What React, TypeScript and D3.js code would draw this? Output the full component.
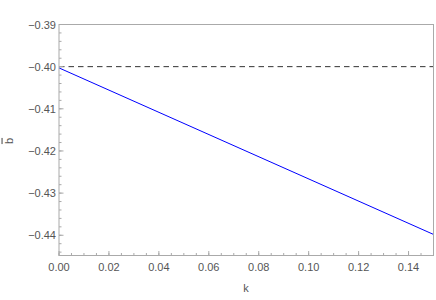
import React from "react";
import * as d3 from "d3";

const kValues = [0, 0.15];
const bValues = [-0.4003, -0.4398];
const refLine = -0.4;
const xTicks = [0, 0.02, 0.04, 0.06, 0.08, 0.1, 0.12, 0.14];
const yTicks = [-0.39, -0.4, -0.41, -0.42, -0.43, -0.44];

export default function App() {
  const W = 436, H = 300;
  const L = 59, R = 433.5, T = 24.5, B = 255.5;
  const x = d3.scaleLinear().domain([0, 0.15]).range([L, R]);
  const y = d3.scaleLinear().domain([-0.4448, -0.39]).range([B, T]);
  const xMinor = d3.range(0, 0.1500001, 0.005);
  const yMinor = d3.range(-0.444, -0.3899, 0.002);
  const line = d3.line<number>().x((_, i) => x(kValues[i])).y((d) => y(d));
  const fmt = (v: number) => (v < 0 ? "\u2212" : "") + Math.abs(v).toFixed(2);
  const font = "'Liberation Sans', Arial, sans-serif";
  return (
    <svg width={W} height={H} style={{ position: "absolute", left: 0, top: 0 }}>
      <rect width={W} height={H} fill="white" />
      <path d={line(bValues) || ""} fill="none" stroke="#0000ff" strokeWidth={1} />
      <line x1={L} x2={R} y1={y(refLine)} y2={y(refLine)} stroke="#333" strokeDasharray="5.5,4" strokeWidth={1} />
      <rect x={L} y={T} width={R - L} height={B - T} fill="none" stroke="#aaa" strokeWidth={1} />
      {xMinor.map((v, i) => (
        <line key={"xm" + i} x1={x(v)} x2={x(v)} y1={B} y2={B - 2.5} stroke="#aaa" />
      ))}
      {yMinor.map((v, i) => (
        <line key={"ym" + i} x1={L} x2={L + 2.5} y1={y(v)} y2={y(v)} stroke="#aaa" />
      ))}
      {xTicks.map((v) => (
        <g key={"xt" + v}>
          <line x1={x(v)} x2={x(v)} y1={B} y2={B - 4.5} stroke="#aaa" />
          <text x={x(v)} y={B + 15} textAnchor="middle" fontFamily={font} fontSize={11} fill="#555">
            {v.toFixed(2)}
          </text>
        </g>
      ))}
      {yTicks.map((v) => (
        <g key={"yt" + v}>
          <line x1={L} x2={L + 4.5} y1={y(v)} y2={y(v)} stroke="#aaa" />
          <text x={L - 3} y={y(v) + 4} textAnchor="end" fontFamily={font} fontSize={11} fill="#555">
            {fmt(v)}
          </text>
        </g>
      ))}
      <text x={246} y={292} textAnchor="middle" fontFamily={font} fontSize={11} fill="#555">k</text>
      <text transform={`translate(12.5,141) rotate(-90)`} textAnchor="middle" fontFamily={font} fontSize={11} fill="#555"
        style={{ textDecoration: "overline" }}>
        b
      </text>
    </svg>
  );
}
